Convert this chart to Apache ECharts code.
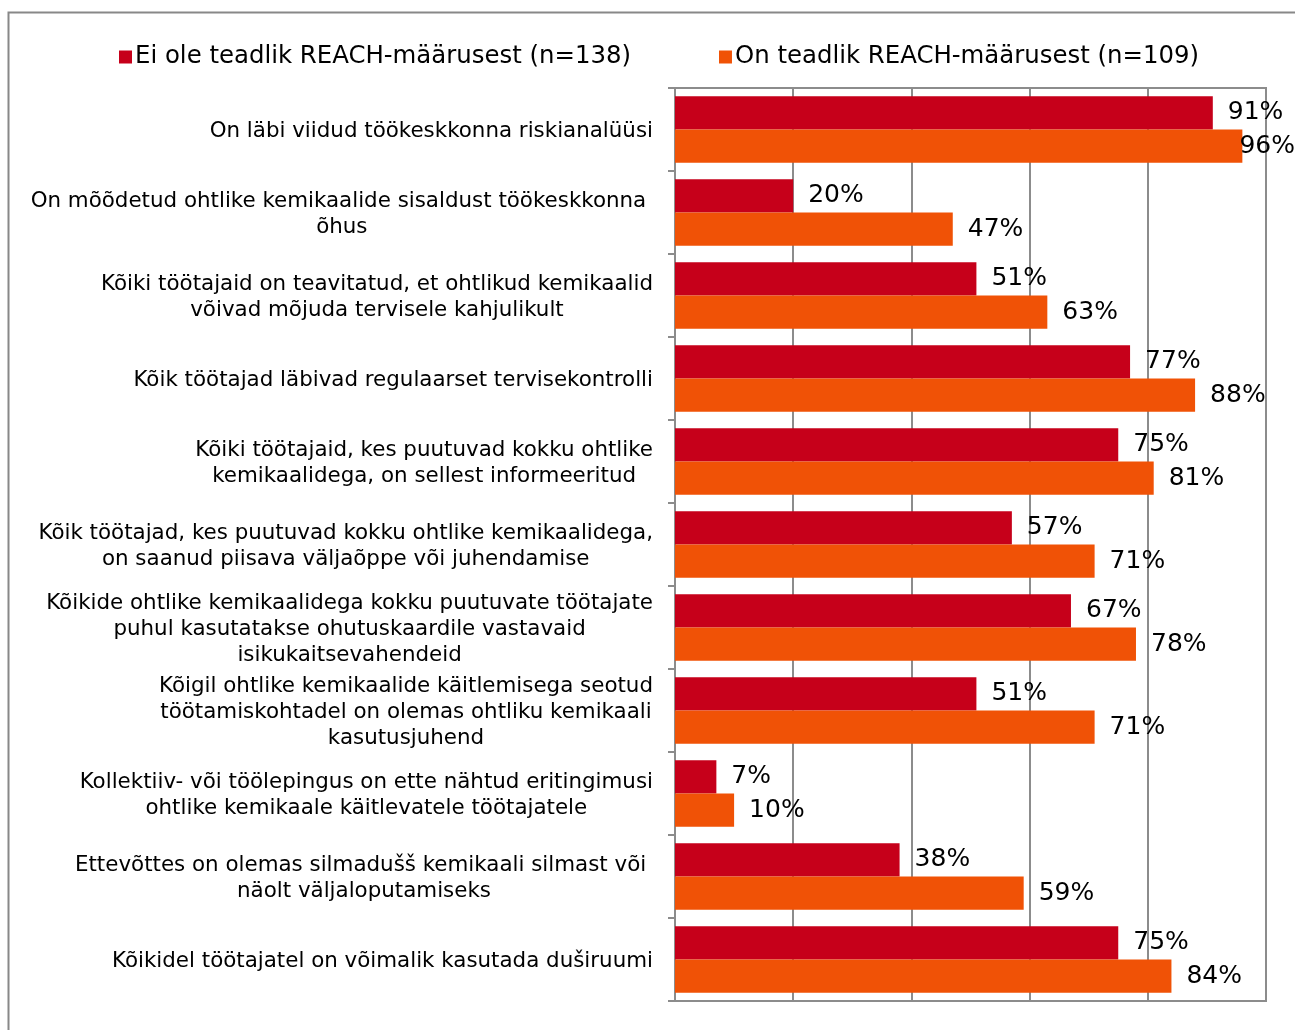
<!DOCTYPE html>
<html>
<head>
<meta charset="utf-8">
<script src="https://cdn.jsdelivr.net/npm/echarts@6/dist/echarts.min.js"></script>
<style>
  html, body { margin: 0; padding: 0; background: #fff; }
  #chart { width: 1295px; height: 1030px; }
</style>
</head>
<body>
<div id="chart"></div>
<script>
const categories = [
  'On läbi viidud töökeskkonna riskianalüüsi',
  'On mõõdetud ohtlike kemikaalide sisaldust töökeskkonna \nõhus',
  'Kõiki töötajaid on teavitatud, et ohtlikud kemikaalid\nvõivad mõjuda tervisele kahjulikult',
  'Kõik töötajad läbivad regulaarset tervisekontrolli',
  'Kõiki töötajaid, kes puutuvad kokku ohtlike\nkemikaalidega, on sellest informeeritud',
  'Kõik töötajad, kes puutuvad kokku ohtlike kemikaalidega,\non saanud piisava väljaõppe või juhendamise',
  'Kõikide ohtlike kemikaalidega kokku puutuvate töötajate\npuhul kasutatakse ohutuskaardile vastavaid\nisikukaitsevahendeid',
  'Kõigil ohtlike kemikaalide käitlemisega seotud\ntöötamiskohtadel on olemas ohtliku kemikaali\nkasutusjuhend',
  'Kollektiiv- või töölepingus on ette nähtud eritingimusi\nohtlike kemikaale käitlevatele töötajatele',
  'Ettevõttes on olemas silmadušš kemikaali silmast või \nnäolt väljaloputamiseks',
  'Kõikidel töötajatel on võimalik kasutada duširuumi'
];

const notAware = [91, 20, 51, 77, 75, 57, 67, 51, 7, 38, 75];
const aware = [96, 47, 63, 88, 81, 71, 78, 71, 10, 59, 84];

const seriesNames = [
  'Ei ole teadlik REACH-määrusest (n=138)',
  'On teadlik REACH-määrusest (n=109)'
];

const font = 'Verdana, "DejaVu Sans", sans-serif';
const gridColor = '#8c8c8c';

const chart = echarts.init(document.getElementById('chart'));

const barLabel = {
  show: true,
  position: 'right',
  distance: 15,
  offset: [0, 2],
  formatter: '{c}%',
  color: '#000',
  fontFamily: font,
  fontSize: 25
};

// keep labels inside the picture, like the original does for 96%
const fitLabel = params => {
  const r = params.labelRect;
  const over = r.x + r.width - 1295;
  return over > 0 ? { dx: -over } : {};
};

const option = {
  backgroundColor: '#fff',
  animation: false,
  graphic: [{
    type: 'rect',
    shape: { x: 8.5, y: 12.5, width: 1400, height: 1200 },
    style: { fill: 'none', stroke: '#888', lineWidth: 2 },
    silent: true
  }],
  legend: {
    top: 40,
    left: 114,
    itemWidth: 13,
    itemHeight: 13,
    itemGap: 88,
    icon: 'rect',
    textStyle: { color: '#000', fontFamily: font, fontSize: 24.4, padding: [0, 0, 0, -2] },
    data: seriesNames
  },
  grid: {
    left: 675,
    right: 29,
    top: 88,
    bottom: 29,
    show: true,
    borderColor: gridColor,
    borderWidth: 2,
    containLabel: false
  },
  xAxis: {
    type: 'value',
    min: 0,
    max: 100,
    interval: 20,
    axisLabel: { show: false },
    axisTick: { show: false },
    axisLine: { show: true, lineStyle: { color: gridColor, width: 2 } },
    splitLine: { show: true, lineStyle: { color: gridColor, width: 2 } }
  },
  yAxis: {
    type: 'category',
    inverse: true,
    data: categories,
    axisLine: { show: true, lineStyle: { color: gridColor, width: 2 } },
    axisTick: { show: true, length: 7, lineStyle: { color: gridColor, width: 2 } },
    axisLabel: {
      interval: 0,
      margin: 22,
      align: 'right',
      padding: [4, 0, 0, 0],
      formatter: v => v.split('\n').map(l => '{c|' + l + '}').join('\n'),
      rich: {
        c: {
          align: 'center',
          color: '#000',
          fontFamily: font,
          fontSize: 21.4,
          lineHeight: 26
        }
      }
    }
  },
  series: [
    {
      name: seriesNames[0],
      type: 'bar',
      data: notAware,
      barGap: '0%',
      barCategoryGap: '20%',
      itemStyle: { color: '#C6001A' },
      label: barLabel,
      labelLayout: fitLabel
    },
    {
      name: seriesNames[1],
      type: 'bar',
      data: aware,
      barGap: '0%',
      barCategoryGap: '20%',
      itemStyle: { color: '#F05206' },
      label: barLabel,
      labelLayout: fitLabel
    }
  ]
};

chart.setOption(option);
window.addEventListener('resize', () => chart.resize());
</script>
</body>
</html>
